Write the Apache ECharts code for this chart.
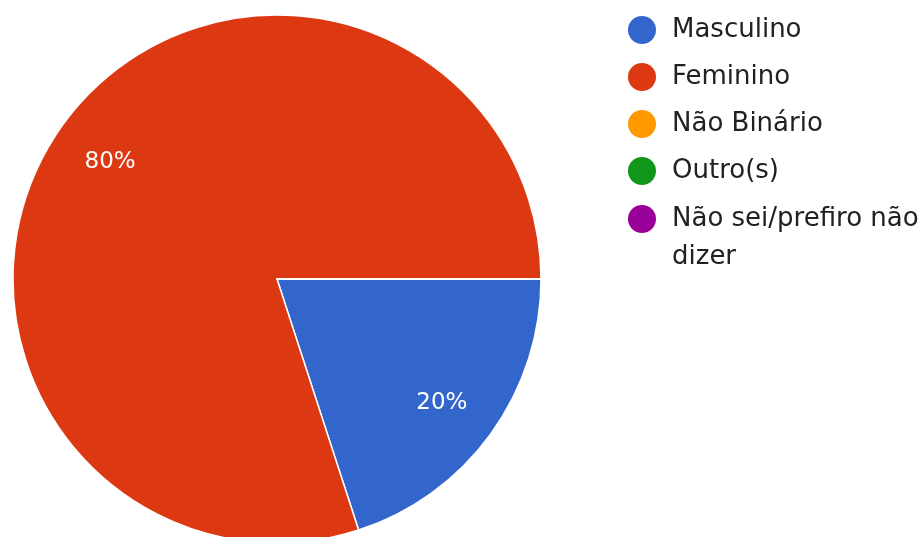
<!DOCTYPE html>
<html>
<head>
<meta charset="utf-8">
<script src="https://cdn.jsdelivr.net/npm/echarts@6/dist/echarts.min.js"></script>
<style>
html,body{margin:0;padding:0;background:#fff;}
#chart{width:924px;height:537px;}
</style>
</head>
<body>
<div id="chart"></div>
<script>
var categories = ['Masculino', 'Feminino', 'Não Binário', 'Outro(s)', 'Não sei/prefiro não dizer'];
var values = [20, 80, 0, 0, 0];
var colors = ['#3366cc', '#dc3912', '#ff9900', '#109618', '#990099'];

var pieData = categories.map(function (name, i) {
  return { name: name, value: values[i] };
});

var legendBase = {
  orient: 'vertical',
  left: 628,
  padding: 0,
  itemWidth: 50,
  itemHeight: 28,
  itemGap: 19,
  icon: 'circle',
  selectedMode: false,
  itemStyle: { borderWidth: 0 },
  textStyle: { fontFamily: 'DejaVu Sans', fontSize: 26, color: '#212121', lineHeight: 28 }
};

var chart = echarts.init(document.getElementById('chart'), null, { renderer: 'canvas' });
chart.setOption({
  animation: false,
  color: colors,
  legend: [
    Object.assign({}, legendBase, {
      top: 16,
      data: categories.slice(0, 4)
    }),
    Object.assign({}, legendBase, {
      top: 162,
      textStyle: { fontFamily: 'DejaVu Sans', fontSize: 26, color: '#212121', lineHeight: 38 },
      formatter: function () {
        return '\nNão sei/prefiro não\ndizer';
      },
      data: [categories[4]]
    })
  ],
  series: [
    {
      type: 'pie',
      center: [277, 279],
      radius: 264,
      startAngle: 0,
      clockwise: true,
      silent: true,
      label: { show: false },
      labelLine: { show: false },
      itemStyle: { borderColor: '#ffffff', borderWidth: 1.5 },
      data: pieData
    },
    {
      type: 'pie',
      center: [277, 279],
      radius: [140, 264],
      startAngle: 0,
      clockwise: true,
      silent: true,
      itemStyle: { color: 'rgba(0,0,0,0)', borderWidth: 0 },
      labelLine: { show: false },
      label: {
        show: true,
        position: 'inside',
        offset: [-1, 4],
        fontFamily: 'DejaVu Sans',
        fontSize: 23,
        color: '#ffffff',
        formatter: function (p) {
          return p.value ? Math.round(p.percent) + '%' : '';
        }
      },
      data: pieData
    }
  ]
});
</script>
</body>
</html>
